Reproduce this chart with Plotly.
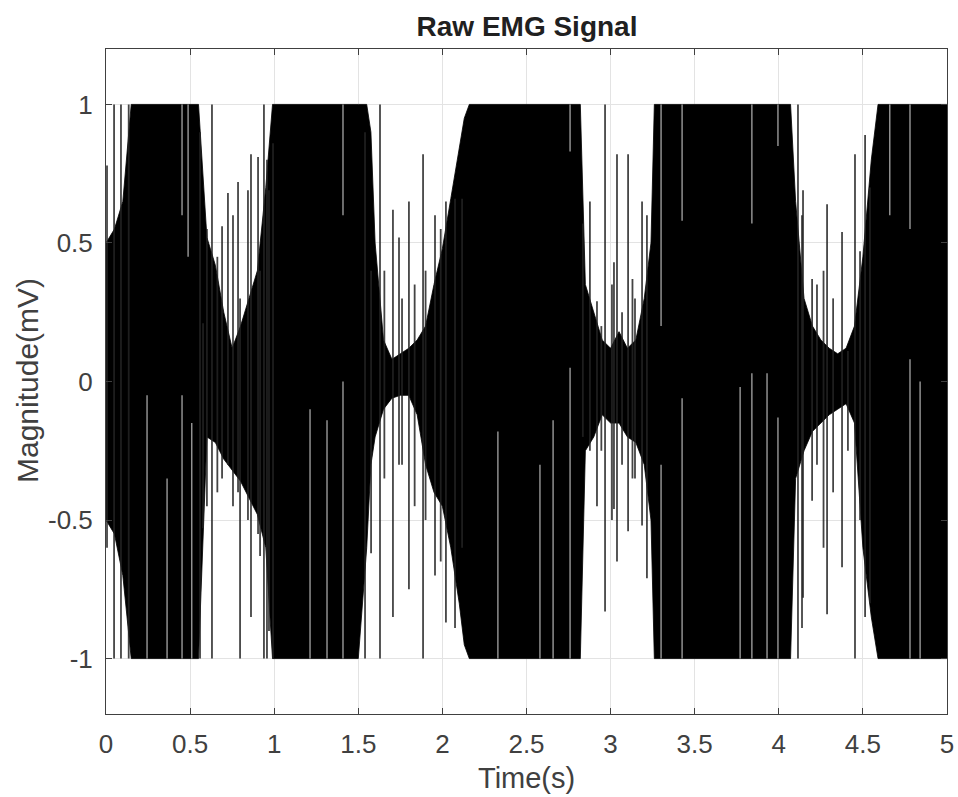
import plotly.graph_objects as go

# ---- data ----
# envelope knots of the dense (black) core of the raw EMG trace
env_t = [0.00, 0.05, 0.10, 0.15, 0.55, 0.58, 0.60, 0.65, 0.70, 0.75, 0.80, 0.85, 0.90, 0.95, 0.99,
         1.50, 1.55, 1.575, 1.60, 1.65, 1.70, 1.75, 1.80, 1.85, 1.90, 1.95, 2.00, 2.05, 2.10, 2.13, 2.16,
         2.82, 2.85, 2.90, 2.95, 3.00, 3.05, 3.10, 3.15, 3.20, 3.24, 3.26,
         4.07, 4.10, 4.15, 4.20, 4.25, 4.30, 4.35, 4.40, 4.45, 4.50, 4.55, 4.59, 5.00]
core_hi = [0.50, 0.55, 0.65, 1.00, 1.00, 0.70, 0.52, 0.42, 0.25, 0.12, 0.20, 0.30, 0.40, 0.70, 1.00,
           1.00, 1.00, 0.90, 0.50, 0.15, 0.08, 0.10, 0.12, 0.15, 0.20, 0.35, 0.48, 0.66, 0.85, 0.95, 1.00,
           1.00, 0.35, 0.25, 0.15, 0.12, 0.18, 0.12, 0.15, 0.30, 0.50, 1.00,
           1.00, 0.65, 0.30, 0.20, 0.15, 0.12, 0.10, 0.12, 0.20, 0.45, 0.80, 1.00, 1.00]
core_lo = [-0.50, -0.55, -0.70, -1.00, -1.00, -0.50, -0.20, -0.22, -0.28, -0.32, -0.36, -0.42, -0.48, -0.60, -1.00,
           -1.00, -0.60, -0.30, -0.20, -0.10, -0.06, -0.05, -0.05, -0.12, -0.30, -0.40, -0.45, -0.60, -0.80, -0.95, -1.00,
           -1.00, -0.25, -0.20, -0.12, -0.15, -0.15, -0.20, -0.22, -0.30, -0.50, -1.00,
           -1.00, -0.35, -0.25, -0.18, -0.15, -0.12, -0.10, -0.08, -0.15, -0.60, -0.85, -1.00, -1.00]

# individual spikes standing out of the core (time, top, bottom)
spike_t = [0.006, 0.048, 0.089, 0.135,
           0.559, 0.577, 0.600, 0.630, 0.662, 0.690, 0.725, 0.755, 0.785, 0.797, 0.844, 0.862, 0.904, 0.916, 0.939,
           0.957, 0.969, 0.993,
           1.540, 1.576, 1.629, 1.655, 1.706, 1.742, 1.760, 1.801, 1.835, 1.885, 1.900, 1.956, 1.990, 2.021, 2.075,
           2.117,
           2.835, 2.877, 2.919, 2.945, 2.967, 3.008, 3.020, 3.038, 3.068, 3.104, 3.130, 3.145, 3.187, 3.216,
           4.114, 4.138, 4.144, 4.198, 4.227, 4.266, 4.287, 4.323, 4.376, 4.411, 4.453, 4.483, 4.513, 4.542]
spike_hi = [0.78, 1.00, 1.00, 1.00,
            0.90, 0.21, 0.55, 1.00, 0.45, 0.56, 0.68, 0.60, 0.72, 0.30, 0.69, 0.82, 0.81, 0.40, 1.00,
            0.80, 0.69, 0.86,
            0.90, 0.40, 1.00, 0.40, 0.62, 0.52, 0.30, 0.65, 0.35, 0.82, 0.40, 0.60, 0.55, 0.65, 0.66,
            0.66,
            0.57, 0.65, 0.29, 0.20, 1.00, 0.35, 0.43, 0.82, 0.25, 0.82, 0.37, 0.30, 0.65, 0.60,
            1.00, 0.60, 0.69, 0.37, 0.35, 0.40, 0.64, 0.30, 0.54, 0.11, 0.82, 0.47, 0.89, 0.70]
spike_lo = [-0.60, -1.00, -1.00, -1.00,
            -1.00, -0.53, -0.45, -1.00, -0.40, -0.35, -0.30, -0.45, -0.40, -1.00, -0.50, -0.85, -0.55, -0.63, -1.00,
            -1.00, -0.90, -1.00,
            -1.00, -0.62, -1.00, -0.35, -0.85, -0.30, -0.30, -0.75, -0.45, -1.00, -0.50, -0.70, -0.65, -0.87, -0.89,
            -0.60,
            -0.20, -0.25, -0.45, -0.25, -0.83, -0.50, -0.46, -0.65, -0.30, -0.54, -0.35, -0.35, -0.52, -0.71,
            -1.00, -0.89, -0.78, -0.43, -0.30, -0.60, -0.84, -0.40, -0.67, -0.25, -1.00, -0.50, -0.85, -0.80]

# thin light gaps visible inside the saturated bursts (time, top, bottom)
gap_t = [0.244, 0.363, 0.452, 0.452, 0.510, 0.488,
         1.213, 1.314, 1.409, 1.409,
         2.330, 2.580, 2.658, 2.759, 2.759,
         3.300, 3.300, 3.425, 3.425, 3.770, 3.840, 3.840, 3.930, 3.995, 3.995,
         4.660, 4.780, 4.780, 4.840]
gap_hi = [-0.05, -0.35, -0.05, 1.00, -0.15, 1.00,
          -0.10, -0.14, 0.00, 1.00,
          -0.18, -0.30, -0.14, 0.05, 1.00,
          1.00, -0.30, 1.00, -0.06, -0.02, 0.03, 1.00, 0.03, -0.13, 1.00,
          1.00, 1.00, 0.08, 0.00]
gap_lo = [-1.00, -1.00, -1.00, 0.60, -1.00, 0.45,
          -1.00, -1.00, -1.00, 0.60,
          -1.00, -1.00, -1.00, -1.00, 0.83,
          0.20, -1.00, 0.58, -1.00, -1.00, -1.00, 0.57, -1.00, -1.00, 0.85,
          0.60, 0.55, -1.00, -1.00]

x_ticks = [0, 0.5, 1, 1.5, 2, 2.5, 3, 3.5, 4, 4.5, 5]
x_labels = ["0", "0.5", "1", "1.5", "2", "2.5", "3", "3.5", "4", "4.5", "5"]
y_ticks = [-1, -0.5, 0, 0.5, 1]
y_labels = ["-1", "-0.5", "0", "0.5", "1"]

FONT = "Liberation Sans, Arial, sans-serif"


def segments(ts, his, los):
    xs, ys = [], []
    for t, h, l in zip(ts, his, los):
        xs += [t, t, None]
        ys += [l, h, None]
    return xs, ys


fig = go.Figure()
fig.add_trace(go.Scatter(x=env_t, y=core_lo, mode="lines",
                         line=dict(color="black", width=0.8), hoverinfo="skip", showlegend=False))
fig.add_trace(go.Scatter(x=env_t, y=core_hi, mode="lines", fill="tonexty", fillcolor="black",
                         line=dict(color="black", width=0.8), hoverinfo="skip", showlegend=False))
sx, sy = segments(spike_t, spike_hi, spike_lo)
fig.add_trace(go.Scatter(x=sx, y=sy, mode="lines",
                         line=dict(color="rgba(35,35,35,0.85)", width=1.8), hoverinfo="skip", showlegend=False))
gx, gy = segments(gap_t, gap_hi, gap_lo)
fig.add_trace(go.Scatter(x=gx, y=gy, mode="lines",
                         line=dict(color="rgba(255,255,255,0.7)", width=1.2), hoverinfo="skip", showlegend=False))

axis_common = dict(
    showline=True, linecolor="#404040", linewidth=1, mirror="ticks",
    ticks="inside", ticklen=6, tickwidth=1, tickcolor="#404040",
    showgrid=True, gridcolor="#e3e3e3", gridwidth=1, zeroline=False, automargin=False,
    tickfont=dict(family=FONT, size=26, color="#404040"),
)
fig.update_xaxes(range=[0, 5], tickvals=x_ticks, ticktext=x_labels, ticklabelstandoff=7, **axis_common)
fig.update_yaxes(range=[-1.2, 1.2], tickvals=y_ticks, ticktext=y_labels, ticklabelstandoff=7, **axis_common)

fig.update_layout(
    width=958, height=797,
    margin=dict(l=106, r=11, t=49, b=83, autoexpand=False),
    paper_bgcolor="white", plot_bgcolor="white",
    title=dict(text="<b>Raw EMG Signal</b>", x=527 / 958, xanchor="center", y=1 - 26 / 797, yanchor="middle",
               yref="container",
               font=dict(family=FONT, size=28, color="#202020")),
    annotations=[
        dict(text="Time(s)", xref="paper", yref="paper", x=0.5, y=-(778 - 714) / 665,
             xanchor="center", yanchor="middle", showarrow=False,
             font=dict(family=FONT, size=29, color="#404040")),
        dict(text="Magnitude(mV)", xref="paper", yref="paper", x=-(106 - 28) / 841, y=(714 - 381) / 665,
             xanchor="center", yanchor="middle", textangle=-90, showarrow=False,
             font=dict(family=FONT, size=30, color="#404040")),
    ],
)

fig.write_html("out.html")
